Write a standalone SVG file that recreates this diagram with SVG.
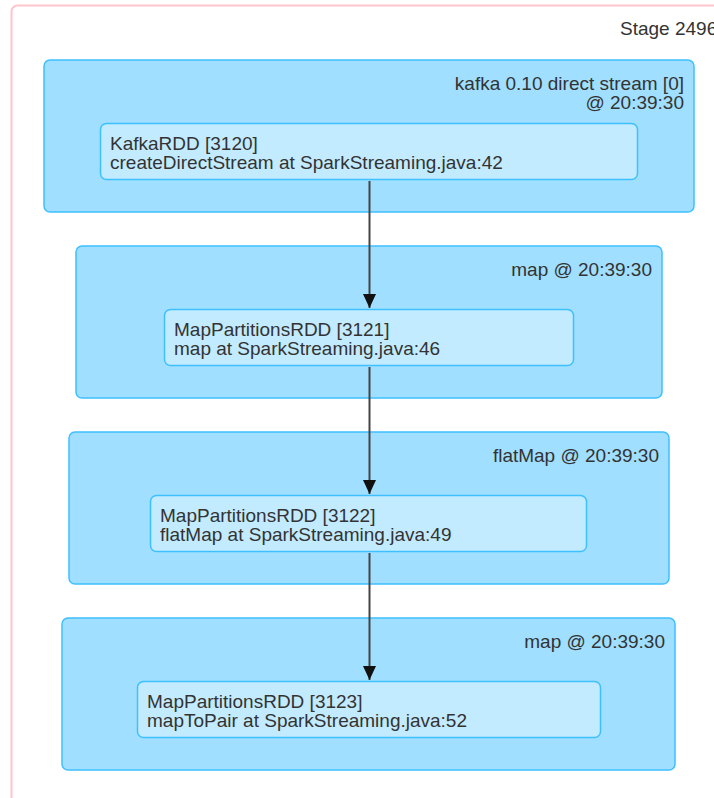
<svg xmlns="http://www.w3.org/2000/svg" width="714" height="798" viewBox="0 0 714 798">
  <style>
    text { font-family: "Liberation Sans", Arial, sans-serif; font-size: 19px; fill: #333333; }
    .stage { fill: #ffffff; stroke: #ffc4ce; stroke-width: 2; }
    .cluster { fill: #a0dfff; stroke: #3ec0ff; stroke-width: 1.5; }
    .rdd { fill: #c3ebff; stroke: #3ec0ff; stroke-width: 1.5; }
    .label { text-anchor: end; }
    .edge { stroke: #444444; stroke-width: 2; fill: none; }
  </style>
  <defs>
    <marker id="arrowhead" viewBox="0 0 14 13" refX="14" refY="6.5" markerWidth="14" markerHeight="13" markerUnits="userSpaceOnUse" orient="auto">
      <path d="M0,0 L14,6.5 L0,13 z" fill="#111111"/>
    </marker>
  </defs>

  <!-- stage cluster -->
  <g id="stage-2496">
    <rect class="stage" x="11.5" y="5.5" width="760" height="820" rx="6"/>
    <text x="620" y="35">Stage 2496</text>
  </g>

  <!-- operation scopes and their RDDs -->
  <g id="cluster-kafka">
    <rect class="cluster" x="44" y="60" width="650" height="152" rx="6"/>
    <text class="label" x="684" y="90">kafka 0.10 direct stream [0]</text>
    <text class="label" x="684" y="109">@ 20:39:30</text>
  </g>
  <g id="node-3120">
    <rect class="rdd" x="100.5" y="123.5" width="537" height="56" rx="6"/>
    <text x="110" y="150">KafkaRDD [3120]</text>
    <text x="110" y="169">createDirectStream at SparkStreaming.java:42</text>
  </g>

  <g id="cluster-map-1">
    <rect class="cluster" x="76" y="246" width="586" height="152" rx="6"/>
    <text class="label" x="652" y="276">map @ 20:39:30</text>
  </g>
  <g id="node-3121">
    <rect class="rdd" x="164.5" y="309.5" width="409" height="56" rx="6"/>
    <text x="174" y="336">MapPartitionsRDD [3121]</text>
    <text x="174" y="355">map at SparkStreaming.java:46</text>
  </g>

  <g id="cluster-flatmap">
    <rect class="cluster" x="69" y="432" width="600" height="152" rx="6"/>
    <text class="label" x="659" y="462">flatMap @ 20:39:30</text>
  </g>
  <g id="node-3122">
    <rect class="rdd" x="150.5" y="495.5" width="436" height="56" rx="6"/>
    <text x="160" y="522">MapPartitionsRDD [3122]</text>
    <text x="160" y="541">flatMap at SparkStreaming.java:49</text>
  </g>

  <g id="cluster-map-2">
    <rect class="cluster" x="62" y="618" width="613" height="152" rx="6"/>
    <text class="label" x="665" y="648">map @ 20:39:30</text>
  </g>
  <g id="node-3123">
    <rect class="rdd" x="137.5" y="681.5" width="463" height="56" rx="6"/>
    <text x="147" y="708">MapPartitionsRDD [3123]</text>
    <text x="147" y="727">mapToPair at SparkStreaming.java:52</text>
  </g>

  <!-- RDD dependency edges -->
  <g id="edges">
    <path class="edge" d="M369.5,181 V308" marker-end="url(#arrowhead)"/>
    <path class="edge" d="M369.5,367 V494" marker-end="url(#arrowhead)"/>
    <path class="edge" d="M369.5,553 V680" marker-end="url(#arrowhead)"/>
  </g>
</svg>
